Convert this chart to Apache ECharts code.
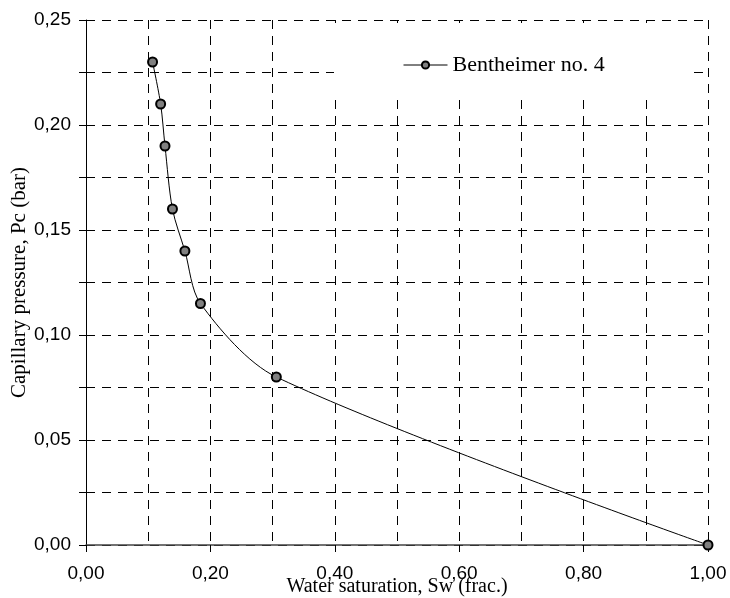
<!DOCTYPE html>
<html>
<head>
<meta charset="utf-8">
<script src="https://cdn.jsdelivr.net/npm/echarts@6/dist/echarts.min.js"></script>
<style>
  html, body { margin: 0; padding: 0; background: #fff; overflow: hidden; }
  #chart { width: 730px; height: 598px; }
</style>
</head>
<body>
<div id="chart"></div>
<script>
// Capillary pressure curve, Bentheimer sample no. 4
const seriesName = 'Bentheimer no. 4';
const waterSaturation = [0.107, 0.120, 0.127, 0.139, 0.159, 0.184, 0.306, 1.00];
const capillaryPressure = [0.230, 0.210, 0.190, 0.160, 0.140, 0.115, 0.080, 0.000];
const xTitle = 'Water saturation, Sw (frac.)';
const yTitle = 'Capillary pressure, Pc (bar)';

const points = waterSaturation.map((x, i) => [x, capillaryPressure[i]]);
const comma = v => v.toFixed(2).replace('.', ',');

const gridDash = { color: '#000', width: 1, type: [9, 7] };
const serif = '"Liberation Serif", "Times New Roman", serif';
const sans = '"Liberation Sans", Arial, sans-serif';

const chart = echarts.init(document.getElementById('chart'), null, { renderer: 'canvas', width: 730, height: 598 });
chart.setOption({
  animation: false,
  backgroundColor: '#fff',
  grid: { left: 86, top: 20, width: 622, height: 525, containLabel: false, outerBoundsMode: 'none' },
  xAxis: {
    type: 'value', min: 0, max: 1, interval: 0.2,
    name: xTitle, nameLocation: 'middle', nameGap: 32, nameMoveOverlap: false,
    nameTextStyle: { fontFamily: serif, fontSize: 20, color: '#000' },
    axisLine: { show: true, onZero: false, lineStyle: { color: '#444', width: 1.5 } },
    axisTick: { show: true, inside: false, length: 7, lineStyle: { color: '#000' } },
    axisLabel: { formatter: comma, margin: 19, fontFamily: sans, fontSize: 19, color: '#000' },
    splitLine: { show: true, lineStyle: gridDash },
    minorTick: { show: false, splitNumber: 2 },
    minorSplitLine: { show: true, lineStyle: gridDash }
  },
  yAxis: {
    type: 'value', min: 0, max: 0.25, interval: 0.025,
    name: yTitle, nameLocation: 'middle', nameGap: 56, nameMoveOverlap: false,
    nameTextStyle: { fontFamily: serif, fontSize: 21, color: '#000' },
    axisLine: { show: true, onZero: false, lineStyle: { color: '#000', width: 1 } },
    axisTick: { show: true, inside: false, length: 7, lineStyle: { color: '#000' } },
    axisLabel: {
      margin: 15, fontFamily: sans, fontSize: 19, color: '#000',
      formatter: v => (Math.round(v * 1000) % 50 === 0 ? comma(v) : '')
    },
    splitLine: { show: true, lineStyle: gridDash }
  },
  graphic: [{
    type: 'rect', z: 3,
    shape: { x: 334, y: 23, width: 356, height: 74 },
    style: { fill: '#fff' }
  }],
  legend: {
    z: 5,
    left: 403, top: 54, padding: 0,
    itemWidth: 44, itemHeight: 9,
    itemGap: 0,
    lineStyle: { width: 1 },
    textStyle: { fontFamily: serif, fontSize: 22, color: '#000' },
    data: [seriesName]
  },
  series: [{
    name: seriesName,
    type: 'line',
    data: points,
    smooth: 0.3,
    symbol: 'circle',
    symbolSize: 9,
    lineStyle: { color: '#000', width: 1 },
    itemStyle: { color: '#808080', borderColor: '#000', borderWidth: 2 },
    z: 4
  }]
});
</script>
</body>
</html>
